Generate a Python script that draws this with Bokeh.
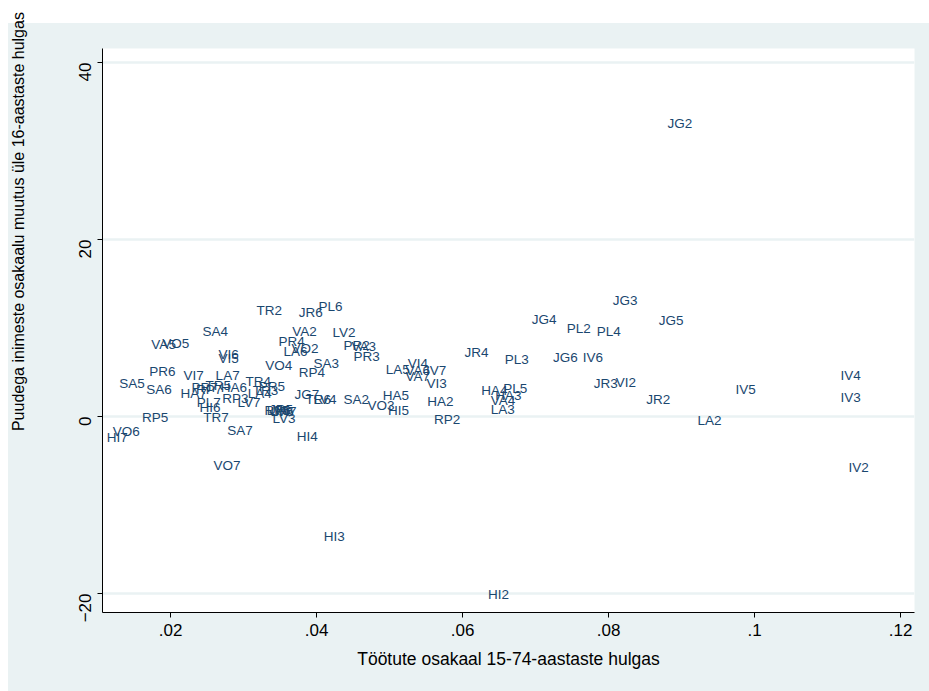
from bokeh.plotting import figure
from bokeh.models import Range1d, FixedTicker, ColumnDataSource
from bokeh.embed import file_html
from bokeh.resources import INLINE
from bokeh.core.properties import value
import math

labels = ["HA2", "HA3", "HA4", "HA5", "HA6", "HA7",
          "HI2", "HI3", "HI4", "HI5", "HI6", "HI7",
          "IV2", "IV3", "IV4", "IV5", "IV6", "IV7",
          "JG2", "JG3", "JG4", "JG5", "JG6", "JG7",
          "JR2", "JR3", "JR4", "JR5", "JR6", "JR7",
          "LA2", "LA3", "LA4", "LA5", "LA6", "LA7",
          "LV2", "LV3", "LV4", "LV5", "LV6", "LV7",
          "PL2", "PL3", "PL4", "PL5", "PL6", "PL7",
          "PR2", "PR3", "PR4", "PR5", "PR6", "PR7",
          "RP2", "RP3", "RP4", "RP5", "RP6", "RP7",
          "SA2", "SA3", "SA4", "SA5", "SA6", "SA7",
          "TR2", "TR3", "TR4", "TR5", "TR6", "TR7",
          "VA2", "VA3", "VA4", "VA5", "VA6", "VA7",
          "VI2", "VI3", "VI4", "VI5", "VI6", "VI7",
          "VO2", "VO3", "VO4", "VO5", "VO6", "VO7"]

unemployment = [0.0549, 0.0642, 0.0623, 0.0488, 0.0266, 0.0211,
                0.0632, 0.0407, 0.0370, 0.0495, 0.0237, 0.0110,
                0.1126, 0.1115, 0.1115, 0.0971, 0.0762, 0.0547,
                0.0878, 0.0803, 0.0692, 0.0866, 0.0721, 0.0367,
                0.0849, 0.0777, 0.0600, 0.0332, 0.0373, 0.0337,
                0.0919, 0.0636, 0.0303, 0.0492, 0.0352, 0.0259,
                0.0419, 0.0337, 0.0393, 0.0329, 0.0334, 0.0289,
                0.0740, 0.0655, 0.0781, 0.0653, 0.0400, 0.0233,
                0.0434, 0.0448, 0.0345, 0.0318, 0.0168, 0.0226,
                0.0558, 0.0268, 0.0373, 0.0158, 0.0326, 0.0232,
                0.0434, 0.0393, 0.0241, 0.0127, 0.0164, 0.0275,
                0.0315, 0.0310, 0.0300, 0.0245, 0.0382, 0.0242,
                0.0364, 0.0445, 0.0636, 0.0171, 0.0519, 0.0519,
                0.0807, 0.0548, 0.0522, 0.0263, 0.0263, 0.0215,
                0.0363, 0.0467, 0.0327, 0.0186, 0.0118, 0.0256]

disability_change = [1.69, 2.37, 2.94, 2.37, 3.28, 2.60,
                     -20.11, -13.56, -2.26, 0.68, 1.02, -2.37,
                     -5.76, 2.15, 4.63, 3.05, 6.67, 5.20,
                     33.11, 13.11, 10.96, 10.85, 6.67, 2.49,
                     1.92, 3.73, 7.23, 0.79, 11.75, 0.56,
                     -0.45, 0.79, 2.60, 5.31, 7.34, 4.63,
                     9.49, -0.23, 1.92, 0.68, 0.56, 1.58,
                     9.94, 6.44, 9.60, 3.16, 12.43, 1.58,
                     8.02, 6.78, 8.47, 3.39, 5.08, 3.28,
                     -0.34, 2.03, 4.97, -0.11, 0.68, 3.05,
                     1.92, 5.99, 9.60, 3.73, 3.05, -1.58,
                     11.98, 2.94, 3.95, 3.50, 1.92, -0.11,
                     9.60, 7.91, 1.81, 8.14, 5.20, 4.52,
                     3.84, 3.73, 5.99, 6.55, 7.01, 4.63,
                     7.68, 1.24, 5.76, 8.25, -1.69, -5.54]

x_ticks = [0.02, 0.04, 0.06, 0.08, 0.10, 0.12]
x_tick_labels = [".02", ".04", ".06", ".08", ".1", ".12"]
y_ticks = [-20, 0, 20, 40]

x_title = "Töötute osakaal 15-74-aastaste hulgas"
y_title = "Puudega inimeste osakaalu muutus üle 16-aastaste hulgas"

BG = "#EAF2F3"
NAVY = "#1A476F"
FONT = "Liberation Sans"

p = figure(width=929, height=691, output_backend="svg", toolbar_location=None,
           x_range=Range1d(0.01068, 0.1219), y_range=Range1d(-22.15, 41.58),
           min_border_left=102, min_border_right=15, min_border_top=48, min_border_bottom=79)
p.border_fill_color = None
p.styles = {"background": "linear-gradient(to right, white 8px, transparent 8px), "
                          "linear-gradient(to bottom, white 23px, " + BG + " 23px)"}
p.background_fill_color = "white"
p.outline_line_color = None

p.xaxis.ticker = FixedTicker(ticks=x_ticks)
p.xaxis.major_label_overrides = {t: l for t, l in zip(x_ticks, x_tick_labels)}
p.yaxis.ticker = FixedTicker(ticks=y_ticks)
p.yaxis.major_label_orientation = math.pi / 2

for ax in (p.xaxis[0], p.yaxis[0]):
    ax.axis_line_color = "black"
    ax.major_tick_line_color = "black"
    ax.major_tick_out = 5
    ax.major_tick_in = 0
    ax.minor_tick_line_color = None
    ax.major_label_text_font = FONT
    ax.major_label_text_font_size = "17px"
    ax.major_label_text_color = "black"

p.yaxis.major_label_standoff = 12
p.xaxis.major_label_standoff = 6
p.xaxis.axis_label = x_title
p.xaxis.axis_label_text_font = FONT
p.xaxis.axis_label_text_font_size = "17.5px"
p.xaxis.axis_label_text_font_style = "normal"
p.xaxis.axis_label_text_color = "black"
p.xaxis.axis_label_standoff = 10

# y title sits above the frame centre in the reference: pad its start with no-break spaces
p.yaxis.axis_label = "\u00a0" * 49 + y_title
p.yaxis.axis_label_text_font = FONT
p.yaxis.axis_label_text_font_size = "16px"
p.yaxis.axis_label_text_font_style = "normal"
p.yaxis.axis_label_text_color = "black"
p.yaxis.axis_label_standoff = 44

p.xgrid.grid_line_color = None
p.ygrid.grid_line_color = BG
p.ygrid.grid_line_width = 2.5

src = ColumnDataSource(dict(x=unemployment, y=disability_change, t=labels))
p.text(x="x", y="y", text="t", source=src, x_offset=2,
       text_align="left", text_baseline="middle",
       text_font=value(FONT), text_font_size="13.5px", text_color=NAVY)

open("out.html", "w").write(file_html(p, INLINE))
